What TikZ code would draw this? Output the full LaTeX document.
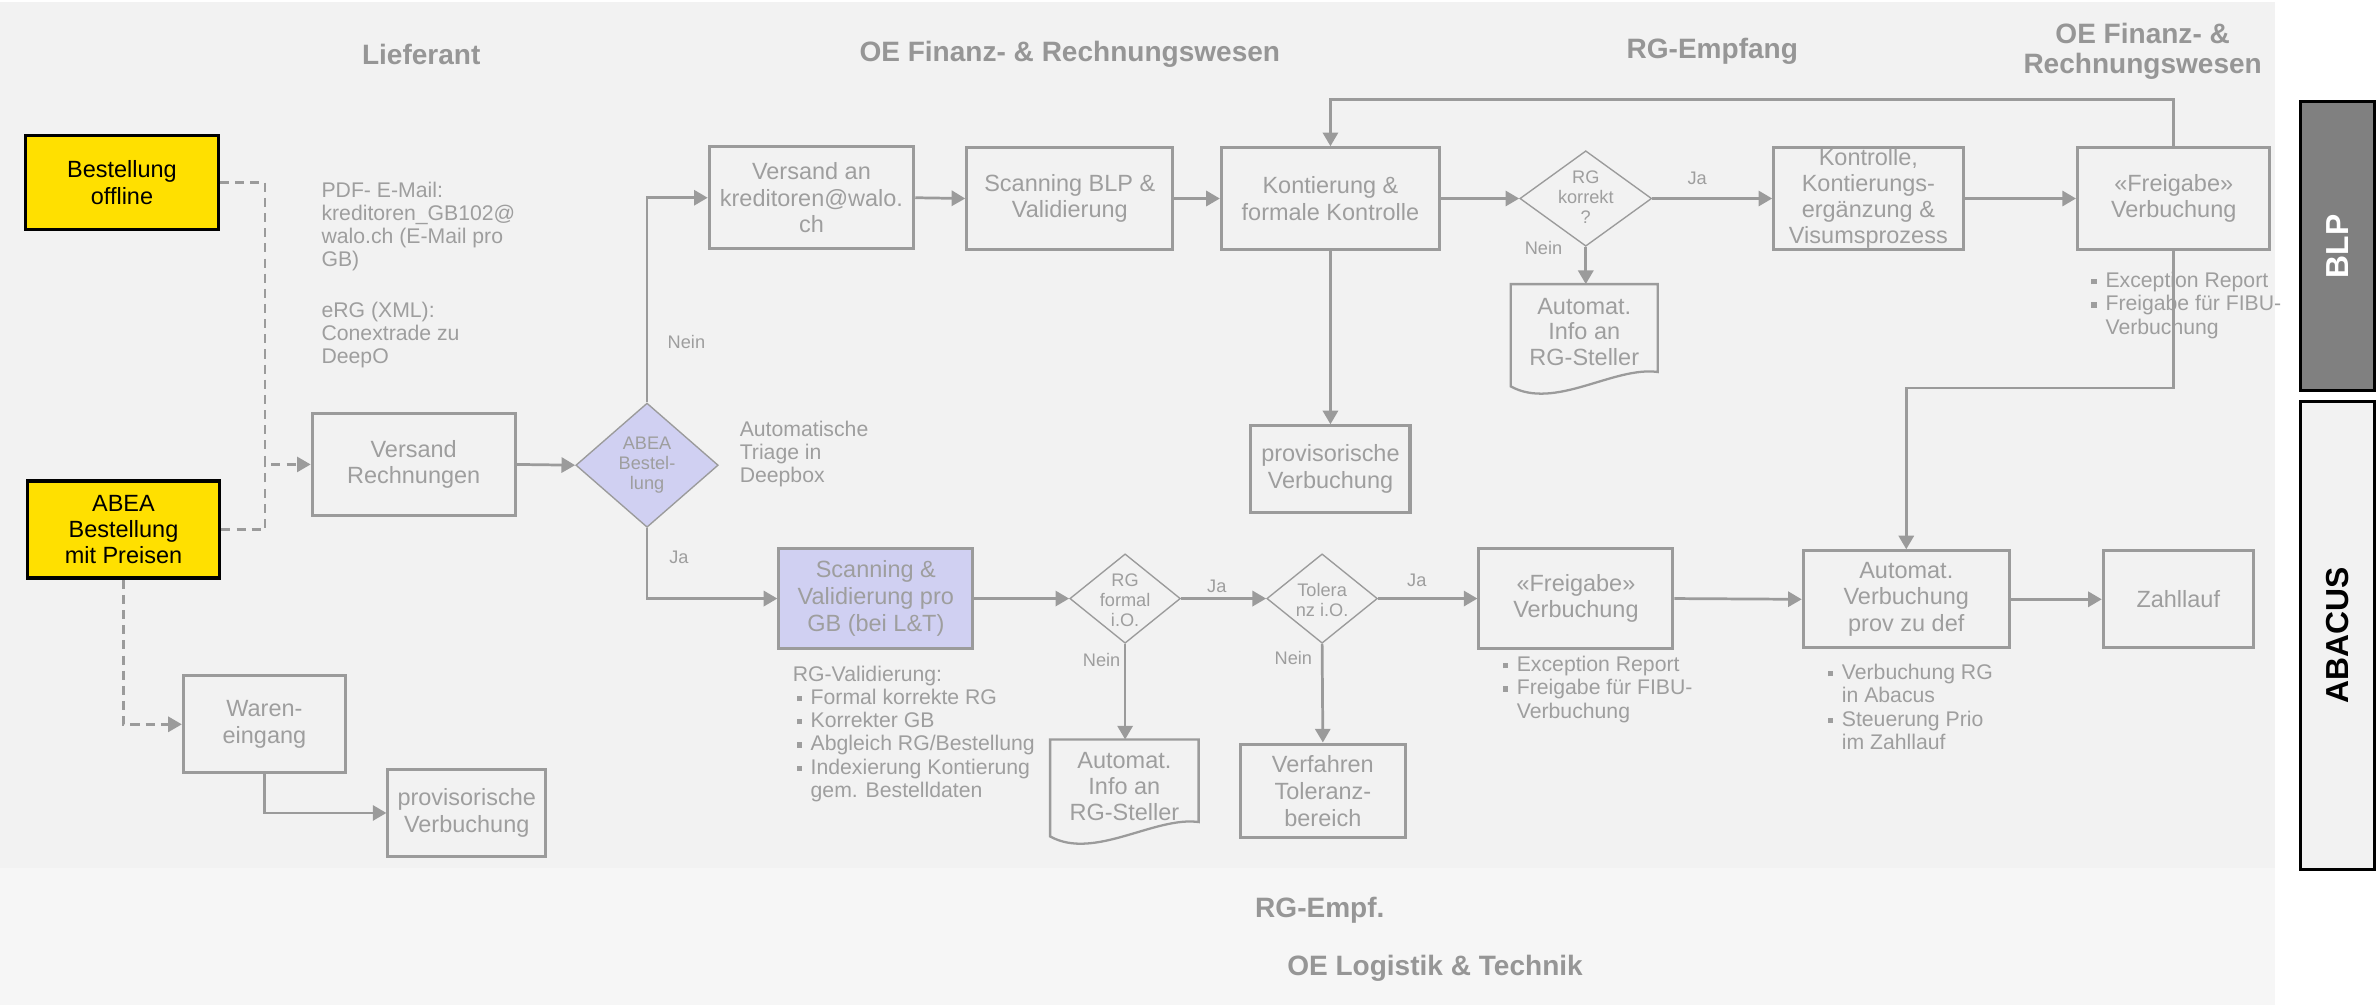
\documentclass[tikz,border=0pt]{standalone}
\usepackage{fontspec}
\setmainfont{Liberation Sans}
\usetikzlibrary{arrows.meta,shapes.geometric}
\definecolor{bgA}{RGB}{242,242,242}
\definecolor{bgB}{RGB}{246,246,246}
\definecolor{lc}{RGB}{155,155,155}
\definecolor{tc}{RGB}{158,158,158}
\definecolor{ttlc}{RGB}{150,150,150}
\definecolor{lav}{RGB}{208,208,242}
\definecolor{yel}{RGB}{255,224,0}
\definecolor{blpg}{RGB}{128,128,128}
\newcommand{\mybul}{\rule[2.2pt]{3.4pt}{3.4pt}\hspace*{5.9pt}}
\begin{document}
\begin{tikzpicture}[x=1pt,y=-1pt,
  box/.style={rectangle, draw=lc, line width=2pt, inner sep=0pt, text=tc, align=center, font=\fontsize{15.5}{17.6}\selectfont},
  lbox/.style={box, fill=lav},
  ybox/.style={rectangle, draw=black, line width=2.2pt, fill=yel, inner sep=0pt, text=black, align=center, font=\fontsize{15.5}{17.2}\selectfont},
  dia/.style={diamond, draw=lc, line width=0.9pt, inner sep=0pt},
  dtxt/.style={text=tc, align=center, inner sep=0pt, font=\fontsize{12}{13.2}\selectfont},
  doctxt/.style={text=tc, align=center, inner sep=0pt, font=\fontsize{15.5}{17}\selectfont},
  lbl/.style={text=tc, inner sep=0pt, font=\fontsize{12}{14}\selectfont},
  note/.style={text=tc, align=left, inner sep=0pt, anchor=west, font=\fontsize{14}{15.3}\selectfont},
  ttl/.style={text=ttlc, inner sep=0pt, align=center, font=\bfseries\fontsize{18.5}{20}\selectfont},
  side/.style={rectangle, draw=black, line width=2pt, rotate=90, inner sep=0pt, font=\bfseries\fontsize{21}{21}\selectfont},
  arr/.style={draw=lc, line width=1.8pt, -{Triangle[length=9pt,width=10pt]}},
  dline/.style={draw=lc, line width=1.6pt, dash pattern=on 6pt off 4pt},
  darr/.style={dline, -{Triangle[length=9pt,width=10pt]}},
  docline/.style={draw=lc, line width=1.5pt}
]
\useasboundingbox (0,0) rectangle (1568,663);
\fill[white] (0,0) rectangle (1568,663);
\fill[bgA] (0,1) rectangle (1501,573);
\fill[bgB] (0,573) rectangle (1501,663);

% titles
\node[ttl] (hLief) at (278,36) {Lieferant};
\node[ttl] (hOE1) at (706,36) {OE Finanz- \& Rechnungswesen};
\node[ttl] (hRGE) at (1130,34) {RG-Empfang};
\node[ttl] (hOE2) at (1414,34) {OE Finanz- \&\\Rechnungswesen};
\node[ttl] (hRGEm) at (871,601) {RG-Empf.};
\node[ttl] (hOEL) at (947,639) {OE Logistik \& Technik};

% side boxes
\node[side, fill=blpg, text=white, minimum width=191pt, minimum height=49pt] (blp) at (1542.5,162.5) {BLP};
\node[side, fill=bgA, text=black, minimum width=309pt, minimum height=49pt] (abacus) at (1542.5,419.5) {ABACUS};

% nodes
\node[ybox, minimum width=127pt, minimum height=62pt] (bo) at (80.5,120.5) {Bestellung\\offline};
\node[ybox, minimum width=127pt, minimum height=64pt] (abea) at (81.5,349.5) {ABEA\\Bestellung\\mit Preisen};
\node[box, minimum width=134pt, minimum height=67pt] (vr) at (273,306.5) {Versand\\Rechnungen};
\node[dia, fill=lav, minimum width=94pt, minimum height=82pt] (dA) at (427,307) {};
\node[dtxt] (dAt) at (427,307) {ABEA\\Bestel-\\lung};
\node[box, minimum width=135pt, minimum height=67pt] (va) at (535.5,130.5) {Versand an\\kreditoren@walo.\\ch};
\node[box, minimum width=136pt, minimum height=67pt] (sb) at (706,131) {Scanning BLP \&\\Validierung};
\node[box, minimum width=144pt, minimum height=67pt] (ko) at (878,131) {Kontierung \&\\formale Kontrolle};
\node[dia, minimum width=87pt, minimum height=63pt] (rk) at (1046.5,131) {};
\node[dtxt] (rkt) at (1046.5,130) {RG\\korrekt\\?};
\node[box, minimum width=125pt, minimum height=67pt, font=\fontsize{15.5}{17}\selectfont] (kc) at (1233,131) {Kontrolle,\\Kontierungs-\\ergänzung \&\\Visumsprozess};
\node[box, minimum width=127pt, minimum height=67pt] (fu) at (1434.5,131) {«Freigabe»\\Verbuchung};
\node[box, minimum width=105pt, minimum height=57pt] (pu) at (878,309.5) {provisorische\\Verbuchung};
\node[lbox, minimum width=128pt, minimum height=66pt] (sg) at (578,395) {Scanning \&\\Validierung pro\\GB (bei L\&T)};
\node[dia, minimum width=73pt, minimum height=59pt] (rf) at (742.5,395) {};
\node[dtxt] (rft) at (742.5,396) {RG\\formal\\i.O.};
\node[dia, minimum width=73pt, minimum height=59pt] (tz) at (872.5,395) {};
\node[dtxt] (tzt) at (872.5,396) {Tolera\\nz i.O.};
\node[box, minimum width=128pt, minimum height=66pt] (fl) at (1040,395) {«Freigabe»\\Verbuchung};
\node[box, minimum width=136pt, minimum height=64pt] (av) at (1258,395.5) {Automat.\\Verbuchung\\prov zu def};
\node[box, minimum width=99pt, minimum height=64pt] (zl) at (1437.5,395.5) {Zahllauf};
\node[box, minimum width=109pt, minimum height=62pt] (vt) at (873,522) {Verfahren\\Toleranz-\\bereich};
\node[box, minimum width=107pt, minimum height=64pt] (we) at (174.5,478) {Waren-\\eingang};
\node[box, minimum width=104pt, minimum height=57pt] (pl) at (308,536.5) {provisorische\\Verbuchung};

% document shapes
\draw[docline] (997,187.5) -- (1094,187.5) -- (1094,245.5) .. controls (1065,241.5) and (1026,271) .. (997,255) -- cycle;
\node[doctxt] (ia) at (1045.5,219) {Automat.\\Info an\\RG-Steller};
\draw[docline] (693,488) -- (791,488) -- (791,542.5) .. controls (762,538.5) and (722,568) .. (693,552) -- cycle;
\node[doctxt] (ib) at (742,519) {Automat.\\Info an\\RG-Steller};
\coordinate (iaTop) at (1046.5,187.5);
\coordinate (ibTop) at (742.5,488);

% notes
\node[note] (nPDF) at (212,149.5) {PDF- E-Mail:\\kreditoren\_GB102@\\walo.ch (E-Mail pro\\GB)};
\node[note] (nERG) at (212,221) {eRG (XML):\\Conextrade zu\\DeepO};
\node[note] (nTri) at (488,299.5) {Automatische\\Triage in\\Deepbox};
\node[note] (nVal) at (523,484.3) {RG-Validierung:\\\hspace*{2.5pt}\mybul Formal korrekte RG\\\hspace*{2.5pt}\mybul Korrekter GB\\\hspace*{2.5pt}\mybul Abgleich RG/Bestellung\\\hspace*{2.5pt}\mybul Indexierung Kontierung\\\hspace*{11.8pt}gem. Bestelldaten};
\node[note] (nFu) at (1380,201.6) {\mybul Exception Report\\\mybul Freigabe für FIBU-\\\hspace*{9.3pt}Verbuchung};
\node[note] (nFl) at (991.5,455) {\mybul Exception Report\\\mybul Freigabe für FIBU-\\\hspace*{9.3pt}Verbuchung};
\node[note] (nAv) at (1206,466.5) {\mybul Verbuchung RG\\\hspace*{9.3pt}in Abacus\\\mybul Steuerung Prio\\\hspace*{9.3pt}im Zahllauf};

% labels
\node[lbl] (l1) at (453,225.5) {Nein};
\node[lbl] (l2) at (448,367.6) {Ja};
\node[lbl] (l3) at (1120,117.7) {Ja};
\node[lbl] (l4) at (1018.6,163.6) {Nein};
\node[lbl] (l5) at (803,387) {Ja};
\node[lbl] (l6) at (727,435.6) {Nein};
\node[lbl] (l7) at (853.5,434.5) {Nein};
\node[lbl] (l8) at (935,383) {Ja};

% connectors
\coordinate (j1) at (175,306.5);
\draw[darr] (bo.east) -| (j1) -- (vr.west);
\draw[dline] (abea.east) -| (j1);
\draw[darr] (abea.south) |- (we.west);
\draw[arr] (we.south) |- (pl.west);
\draw[arr] (vr.east) -- (dA.west);
\draw[arr] (dA.north) |- (va.west);
\draw[arr] (dA.south) |- (sg.west);
\draw[arr] (va.east) -- (sb.west);
\draw[arr] (sb.east) -- (ko.west);
\draw[arr] (ko.east) -- (rk.west);
\draw[arr] (rk.east) -- (kc.west);
\draw[arr] (kc.east) -- (fu.west);
\coordinate (lt) at (1200,65.6);
\draw[arr] (fu.north) |- (lt) -| (ko.north);
\coordinate (lb) at (1300,256);
\draw[arr] (fu.south) |- (lb) -| (av.north);
\draw[arr] (rk.south) -- (iaTop);
\draw[arr] (ko.south) -- (pu.north);
\draw[arr] (sg.east) -- (rf.west);
\draw[arr] (rf.east) -- (tz.west);
\draw[arr] (tz.east) -- (fl.west);
\draw[arr] (fl.east) -- (av.west);
\draw[arr] (av.east) -- (zl.west);
\draw[arr] (rf.south) -- (ibTop);
\draw[arr] (tz.south) -- (vt.north);
\end{tikzpicture}
\end{document}
